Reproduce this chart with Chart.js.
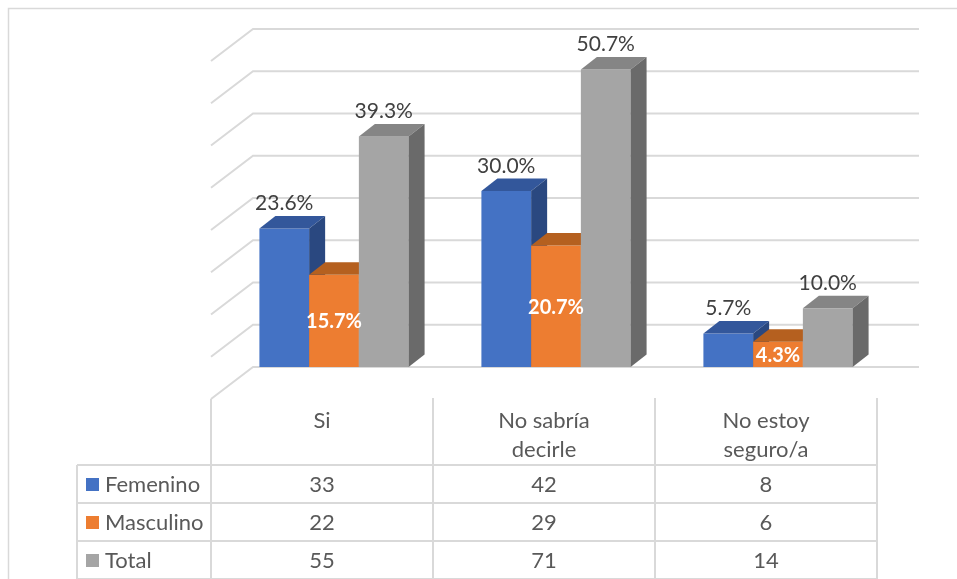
<!DOCTYPE html>
<html>
<head>
<meta charset="utf-8">
<script src="https://cdn.jsdelivr.net/npm/chart.js@4/dist/chart.umd.min.js"></script>
<style>
  html, body { margin: 0; padding: 0; background: #fff; }
  canvas { display: block; }
</style>
</head>
<body>
<canvas id="surveyChart" width="957" height="579"></canvas>
<script>
// data
const categories = [["Si"], ["No sabría", "decirle"], ["No estoy", "seguro/a"]];
const seriesNames = ["Femenino", "Masculino", "Total"];
const pctFemenino = [23.6, 30.0, 5.7];
const pctMasculino = [15.7, 20.7, 4.3];
const pctTotal = [39.3, 50.7, 10.0];
const countFemenino = [33, 42, 8];
const countMasculino = [22, 29, 6];
const countTotal = [55, 71, 14];

const frontColors = ["#4472C4", "#ED7D31", "#A5A5A5"];
const topColors = ["#33579B", "#B5601F", "#858585"];
const sideColors = ["#2A4880", "#9C521B", "#6A6A6A"];

const FONT = "Lato, 'Open Sans', sans-serif";
const GRID = "#D9D9D9";
const BAR_DX = 16, BAR_DY = -12.5;   // depth of each bar
const FLOOR_SHIFT = -12;              // floor front edge relative to bars
const WALL_DX = 42, WALL_DY = -32;    // depth of the side wall

const counts = [countFemenino, countMasculino, countTotal];

const bar3d = {
  id: "bar3d",
  beforeDatasetsDraw(chart) {
    const ctx = chart.ctx;
    const a = chart.chartArea;
    const yScale = chart.scales.y;
    const frontL = a.left + FLOOR_SHIFT;
    const backL = frontL + WALL_DX;
    const backR = a.right + FLOOR_SHIFT + WALL_DX;

    ctx.save();
    // outer frame
    ctx.strokeStyle = GRID;
    ctx.lineWidth = 1.5;
    ctx.beginPath();
    ctx.moveTo(8.5, chart.height + 2);
    ctx.lineTo(8.5, 8.5);
    ctx.lineTo(chart.width + 2, 8.5);
    ctx.stroke();

    // back wall + side wall grid
    ctx.lineWidth = 2;
    yScale.ticks.forEach(t => {
      const py = yScale.getPixelForValue(t.value);
      ctx.beginPath();
      ctx.moveTo(backL - WALL_DX, py - WALL_DY);
      ctx.lineTo(backL, py);
      ctx.lineTo(backR, py);
      ctx.stroke();
    });

    // bars: front, top, side, in order so later bars cover earlier sides
    const n = chart.data.labels.length;
    for (let i = 0; i < n; i++) {
      chart.data.datasets.forEach((ds, d) => {
        const el = chart.getDatasetMeta(d).data[i];
        const l = el.x - el.width / 2, r = el.x + el.width / 2;
        const t = el.y, b = el.base;
        ctx.fillStyle = frontColors[d];
        ctx.fillRect(l, t, r - l, b - t);
        ctx.fillStyle = topColors[d];
        ctx.beginPath();
        ctx.moveTo(l, t);
        ctx.lineTo(r, t);
        ctx.lineTo(r + BAR_DX, t + BAR_DY);
        ctx.lineTo(l + BAR_DX, t + BAR_DY);
        ctx.closePath();
        ctx.fill();
        ctx.fillStyle = sideColors[d];
        ctx.beginPath();
        ctx.moveTo(r, t);
        ctx.lineTo(r + BAR_DX, t + BAR_DY);
        ctx.lineTo(r + BAR_DX, b + BAR_DY);
        ctx.lineTo(r, b);
        ctx.closePath();
        ctx.fill();
      });
    }
    ctx.restore();
    return false;
  },
  afterDraw(chart) {
    const ctx = chart.ctx;
    const a = chart.chartArea;
    const xScale = chart.scales.x;
    ctx.save();
    ctx.textAlign = "center";
    ctx.textBaseline = "middle";

    // data labels
    chart.data.datasets.forEach((ds, d) => {
      chart.getDatasetMeta(d).data.forEach((el, i) => {
        const txt = ds.data[i].toFixed(1) + "%";
        if (d === 1) {
          ctx.font = "bold 20px " + FONT;
          ctx.fillStyle = "#FFFFFF";
          ctx.fillText(txt, el.x, (el.y + el.base) / 2 + 1);
        } else {
          ctx.font = "21px " + FONT;
          ctx.fillStyle = "#404040";
          ctx.fillText(txt, el.x, el.y - 25);
        }
      });
    });

    // data table
    const catW = xScale.getPixelForValue(1) - xScale.getPixelForValue(0);
    const colL = a.left + FLOOR_SHIFT;
    const colR = colL + catW * chart.data.labels.length;
    const rowTops = [465, 503, 541, 579];
    const tableLeft = 77;

    ctx.strokeStyle = GRID;
    ctx.lineWidth = 2;
    for (let k = 0; k <= chart.data.labels.length; k++) {
      const x = colL + k * catW;
      ctx.beginPath();
      ctx.moveTo(x, k === 0 ? a.bottom - WALL_DY : 398);
      ctx.lineTo(x, chart.height);
      ctx.stroke();
    }
    rowTops.forEach(y => {
      ctx.beginPath();
      ctx.moveTo(tableLeft, y);
      ctx.lineTo(colR, y);
      ctx.stroke();
    });
    ctx.beginPath();
    ctx.moveTo(tableLeft, rowTops[0]);
    ctx.lineTo(tableLeft, chart.height);
    ctx.stroke();

    ctx.font = "22px " + FONT;
    ctx.fillStyle = "#595959";
    // header
    chart.data.labels.forEach((lab, i) => {
      const cx = xScale.getPixelForValue(i) + FLOOR_SHIFT;
      lab.forEach((line, j) => ctx.fillText(line, cx, 421 + j * 29));
    });
    // rows
    seriesNames.forEach((name, d) => {
      const cy = (rowTops[d] + rowTops[d + 1]) / 2 + 1;
      ctx.fillStyle = frontColors[d];
      ctx.fillRect(86, cy - 7, 13, 13);
      ctx.fillStyle = "#595959";
      ctx.textAlign = "left";
      ctx.fillText(name, 105, cy);
      ctx.textAlign = "center";
      counts[d].forEach((v, i) => {
        ctx.fillText(String(v), xScale.getPixelForValue(i) + FLOOR_SHIFT, cy);
      });
    });
    ctx.restore();
  }
};

const ctx = document.getElementById("surveyChart").getContext("2d");
const chart = new Chart(ctx, {
  type: "bar",
  data: {
    labels: categories,
    datasets: [
      { label: seriesNames[0], data: pctFemenino, backgroundColor: frontColors[0] },
      { label: seriesNames[1], data: pctMasculino, backgroundColor: frontColors[1] },
      { label: seriesNames[2], data: pctTotal, backgroundColor: frontColors[2] }
    ]
  },
  options: {
    responsive: false,
    animation: false,
    layout: { padding: { left: 223, right: 68, top: 29, bottom: 212 } },
    datasets: { bar: { categoryPercentage: 0.672, barPercentage: 1 } },
    scales: {
      x: { display: false },
      y: { display: false, min: 0, max: 57.6, ticks: { count: 9 } }
    },
    plugins: { legend: { display: false }, tooltip: { enabled: false } }
  },
  plugins: [bar3d]
});
</script>
</body>
</html>
